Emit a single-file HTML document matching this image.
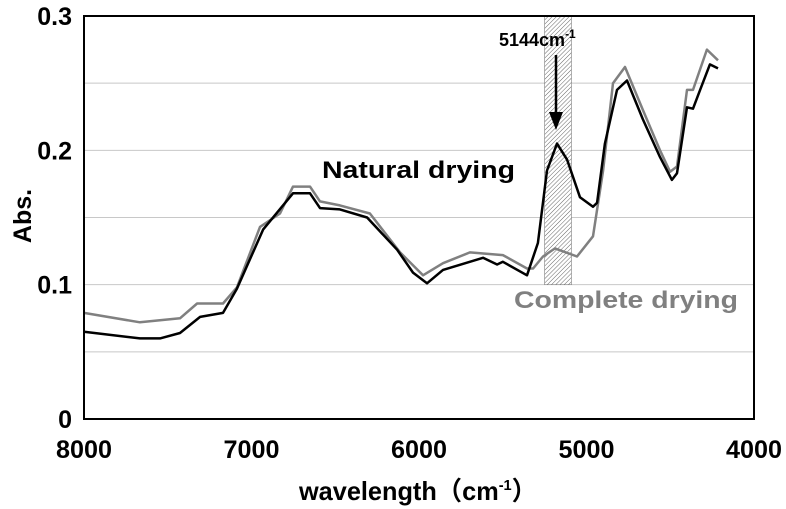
<!DOCTYPE html>
<html><head><meta charset="utf-8"><style>
html,body{margin:0;padding:0;background:#fff;}
svg{display:block;font-family:"Liberation Sans","Noto Sans CJK JP",sans-serif;font-weight:bold;}
</style></head><body>
<svg id="chart" width="786" height="509" viewBox="0 0 786 509" xmlns="http://www.w3.org/2000/svg">
<defs>
<pattern id="hatch" width="3" height="3" patternUnits="userSpaceOnUse" patternTransform="rotate(45)">
<rect width="3" height="3" fill="#fff"/><line x1="0" y1="0" x2="0" y2="3" stroke="#666" stroke-width="1"/>
</pattern>
</defs>
<g id="grid"></g>
<g id="band"></g>
<g id="series"></g>
<rect x="84" y="16" width="670" height="403" fill="none" stroke="#000" stroke-width="2"/>
<g id="ticks" font-size="25"></g>
<text x="299" y="500" font-size="26" textLength="238" lengthAdjust="spacingAndGlyphs">wavelength（cm<tspan font-size="15" dy="-10">-1</tspan><tspan dy="10">）</tspan></text>
<text transform="translate(31,216) rotate(-90)" font-size="25" text-anchor="middle">Abs.</text>
<text x="322" y="178" font-size="24" textLength="193" lengthAdjust="spacingAndGlyphs" fill="#000">Natural drying</text>
<text x="514" y="308" font-size="24" textLength="224" lengthAdjust="spacingAndGlyphs" fill="#808080">Complete drying</text>
<text x="499" y="46" font-size="18">5144cm<tspan font-size="12" dy="-8">-1</tspan></text>
<line x1="556" y1="55" x2="556" y2="114" stroke="#000" stroke-width="2.5"/>
<polygon points="549,112 563,112 556,130" fill="#000"/>
</svg>
<script>
const xTicks=[8000,7000,6000,5000,4000];
const yTicks=[0,0.1,0.2,0.3];
const yTickLabels=["0","0.1","0.2","0.3"];
const gridValues=[0.05,0.1,0.15,0.2,0.25];
const bandRange=[5250,5090];
const bandTop=0.3, bandBottom=0.1;
const naturalW=[8000,7666,7546,7427,7307,7170,7087,6931,6752,6651,6591,6472,6310,6131,6036,5952,5857,5618,5534,5499,5355,5290,5236,5176,5116,5039,4961,4937,4890,4818,4758,4663,4561,4490,4460,4400,4364,4322,4263,4215];
const naturalA=[0.065,0.060,0.060,0.064,0.076,0.079,0.097,0.141,0.168,0.168,0.157,0.156,0.150,0.126,0.109,0.101,0.111,0.120,0.115,0.117,0.107,0.131,0.185,0.205,0.193,0.165,0.158,0.161,0.205,0.245,0.252,0.223,0.195,0.178,0.183,0.232,0.231,0.245,0.264,0.261];
const completeW=[8000,7666,7427,7325,7170,7087,6949,6830,6752,6651,6591,6472,6293,6113,5976,5857,5696,5499,5355,5319,5260,5188,5057,4961,4901,4842,4770,4663,4561,4501,4460,4400,4364,4281,4215];
const completeA=[0.079,0.072,0.075,0.086,0.086,0.098,0.143,0.153,0.173,0.173,0.162,0.159,0.153,0.124,0.107,0.116,0.124,0.122,0.112,0.112,0.121,0.127,0.121,0.136,0.185,0.250,0.262,0.230,0.200,0.184,0.188,0.245,0.245,0.275,0.267];
const NS="http://www.w3.org/2000/svg";
const X=w=>84+(8000-w)/4000*670;
const Y=v=>419-v/0.3*403;
function mk(tag,attrs,parent){const e=document.createElementNS(NS,tag);for(const k in attrs)e.setAttribute(k,attrs[k]);parent.appendChild(e);return e;}
const grid=document.getElementById('grid');
gridValues.forEach(v=>{const l=mk('line',{x1:84,x2:754,y1:Y(v),y2:Y(v),stroke:'#c8c8c8','stroke-width':1},grid);

});
const band=document.getElementById('band');
const br=mk('rect',{x:X(bandRange[0]),y:Y(bandTop),width:X(bandRange[1])-X(bandRange[0]),height:Y(bandBottom)-Y(bandTop),fill:'url(#hatch)',stroke:'#666','stroke-width':0.5},band);


const ser=document.getElementById('series');
function line(ws,as,color,name){const d=ws.map((w,i)=>(i?'L':'M')+X(w).toFixed(1)+','+Y(as[i]).toFixed(1)).join('');
const p=mk('path',{d:d,fill:'none',stroke:color,'stroke-width':2.5,'stroke-linejoin':'round'},ser);

}
line(completeW,completeA,'#808080','complete-drying-line');
line(naturalW,naturalA,'#000','natural-drying-line');
const tk=document.getElementById('ticks');
xTicks.forEach(w=>{const t=mk('text',{x:X(w)-28,y:458,textLength:56,lengthAdjust:'spacingAndGlyphs'},tk);t.textContent=w;

});
yTicks.forEach((v,i)=>{const t=mk('text',{x:72,y:Y(v)+9,'text-anchor':'end'},tk);t.textContent=yTickLabels[i];

});
</script>
</body></html>
